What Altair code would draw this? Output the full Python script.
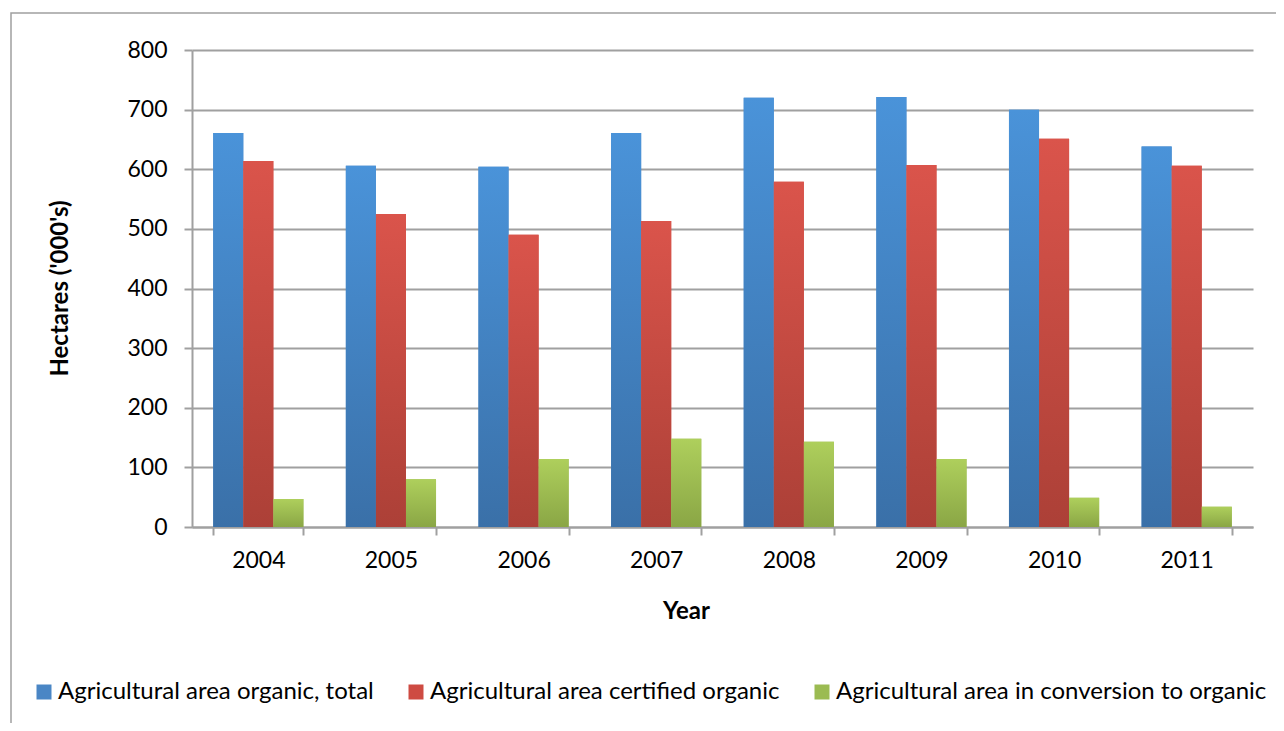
import altair as alt
import pandas as pd

years = ["2004", "2005", "2006", "2007", "2008", "2009", "2010", "2011"]
series_names = [
    "Agricultural area organic, total",
    "Agricultural area certified organic",
    "Agricultural area in conversion to organic",
]
total = [661, 606, 604, 661, 720, 721, 700, 638]
certified = [614, 525, 490, 513, 579, 607, 651, 606]
conversion = [47, 80, 114, 148, 143, 114, 49, 34]
y_ticks = [0, 100, 200, 300, 400, 500, 600, 700, 800]

solid_colors = ["#4A86C5", "#CE4B42", "#9BBB52"]
grad_top = ["#4A93D9", "#DA544B", "#AECF5C"]
grad_bottom = ["#3A70A8", "#AC4037", "#8AA645"]

rows = []
for i, yr in enumerate(years):
    for s, vals in zip(series_names, [total, certified, conversion]):
        rows.append({"Year": yr, "Series": s, "Value": vals[i]})
df = pd.DataFrame(rows)

FONT = "Lato"
GRID = "#A0A0A0"

x_enc = alt.X(
    "Year:N",
    scale=alt.Scale(paddingInner=0.32, paddingOuter=0.16),
    axis=alt.Axis(
        labelAngle=0, tickBand="extent", grid=False,
        labelFont=FONT, labelFontSize=23, labelColor="black", labelPadding=14,
        domainColor=GRID, domainWidth=2, tickColor=GRID, tickWidth=2, tickSize=8,
        title="Year", titleFont=FONT, titleFontSize=24, titleFontWeight="bold",
        titleColor="black", titleX=494, titleY=84, titleBaseline="middle",
    ),
)
xo_enc = alt.XOffset("Series:N", scale=alt.Scale(domain=series_names, paddingInner=0, paddingOuter=0))
y_enc = alt.Y(
    "Value:Q",
    scale=alt.Scale(domain=[0, 800], nice=False),
    axis=alt.Axis(
        values=y_ticks, grid=True, gridColor=GRID, gridWidth=2,
        labelFont=FONT, labelFontSize=23, labelColor="black", labelPadding=17,
        domainColor=GRID, domainWidth=2, tickColor=GRID, tickWidth=2, tickSize=8,
        title="Hectares ('000's)", titleFont=FONT, titleFontSize=24, titleFontWeight="bold",
        titleColor="black", titleX=-132, titleY=238, titleAngle=-90,
        titleAlign="center", titleBaseline="middle",
    ),
)

base = alt.Chart(df).mark_bar().encode(
    x=x_enc, xOffset=xo_enc, y=y_enc,
    color=alt.Color(
        "Series:N",
        scale=alt.Scale(domain=series_names, range=solid_colors),
        legend=alt.Legend(
            orient="none", legendX=-160, legendY=630, direction="horizontal",
            title=None, labelFont=FONT, labelFontSize=24, labelColor="black",
            symbolType="square", symbolSize=225, symbolStrokeWidth=0,
            columnPadding=30, labelOffset=2, labelLimit=700,
        ),
    ),
)

layers = [base]
for s, top, bot in zip(series_names, grad_top, grad_bottom):
    layers.append(
        alt.Chart(df)
        .transform_filter(alt.datum.Series == s)
        .mark_bar(
            color=alt.Gradient(
                gradient="linear", x1=0, x2=0, y1=0, y2=1,
                stops=[alt.GradientStop(offset=0, color=top), alt.GradientStop(offset=1, color=bot)],
            )
        )
        .encode(x=x_enc, xOffset=xo_enc, y=y_enc)
    )

border = alt.Chart(pd.DataFrame({"a": [0]})).mark_rect(
    fillOpacity=0, stroke=GRID, strokeWidth=1.5
).encode(x=alt.value(-181), x2=alt.value(1300), y=alt.value(-37), y2=alt.value(900))

chart = alt.layer(border, *layers).properties(
    width=1061, height=477,
    padding={"left": 184, "top": 42, "right": 23, "bottom": 196},
    autosize=alt.AutoSizeParams(type="none"),
).configure_view(stroke=None)

chart.save("out.html", embed_options={"renderer": "svg", "actions": False})
